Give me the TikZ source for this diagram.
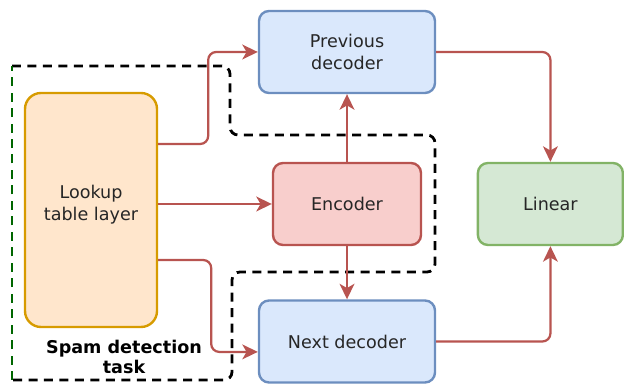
\documentclass[tikz,border=0pt]{standalone}
\usepackage{fontspec}
\setmainfont{DejaVu Sans}
\usetikzlibrary{arrows.meta}

\definecolor{lookupfill}{HTML}{FFE6CC}
\definecolor{lookupline}{HTML}{D79B00}
\definecolor{decfill}{HTML}{DAE8FC}
\definecolor{decline}{HTML}{6C8EBF}
\definecolor{encfill}{HTML}{F8CECC}
\definecolor{encline}{HTML}{B85450}
\definecolor{linfill}{HTML}{D5E8D4}
\definecolor{linline}{HTML}{82B366}
\definecolor{taskgreen}{HTML}{006600}

\tikzset{
  box/.style={draw, rounded corners=0.25cm, line width=1.7pt, align=center,
    inner sep=0pt, text=black!85, font=\fontsize{12.5}{15.5}\selectfont},
  flow/.style={draw=encline, line width=1.6pt, rounded corners=0.2cm,
    -{Stealth[length=11pt,width=10.5pt,inset=3pt]}},
  taskline/.style={line width=2pt, dash pattern=on 6.4pt off 4.6pt, rounded corners=0.2cm}
}

\begin{document}
\begin{tikzpicture}
\useasboundingbox (0,0) rectangle (15.6,9.625);

% the five blocks
\node[box, fill=lookupfill, draw=lookupline, rounded corners=0.4cm,
      minimum width=3.3cm, minimum height=5.85cm] (lookup) at (2.275,4.375) {};
\node[align=center, text=black!85, font=\fontsize{12.5}{15.5}\selectfont]
      (lookuptext) at (2.275,4.5) {Lookup\\table layer};
\node[box, fill=decfill, draw=decline, minimum width=4.4cm, minimum height=2.05cm]
      (prevdec) at (8.675,8.325) {Previous\\decoder};
\node[box, fill=encfill, draw=encline, minimum width=3.7cm, minimum height=2.05cm]
      (enc) at (8.675,4.525) {Encoder};
\node[box, fill=decfill, draw=decline, minimum width=4.4cm, minimum height=2.05cm]
      (nextdec) at (8.675,1.0875) {Next decoder};
\node[box, fill=linfill, draw=linline, minimum width=3.625cm, minimum height=2.05cm]
      (lin) at (13.76,4.525) {Linear};

\node[align=center, font=\fontsize{12.5}{14.2}\selectfont\bfseries] (task) at (3.1,0.7) {Spam detection\\task};

% dashed outline of the task
\draw[taskline] (0.3,7.975) -- (5.75,7.975) -- (5.75,6.25) -- (10.875,6.25)
   -- (10.875,2.825) -- (5.8,2.825) -- (5.8,0.125) -- (0.3,0.125);
\draw[taskline, draw=taskgreen] (0.3,0.125) -- (0.3,7.975);

% connections
\draw[flow] ([yshift=1.65cm]lookup.east) -- ++(1.25,0) |- (prevdec.west);
\draw[flow] (lookup.east |- enc.west) -- (enc.west);
\draw[flow] ([yshift=-1.25cm]lookup.east) -- ++(1.325,0) |- ([yshift=-0.26cm]nextdec.west);
\draw[flow] (enc) -- (prevdec);
\draw[flow] (enc) -- (nextdec);
\draw[flow] (prevdec) -| (lin);
\draw[flow] (nextdec) -| (lin);

\end{tikzpicture}
\end{document}
